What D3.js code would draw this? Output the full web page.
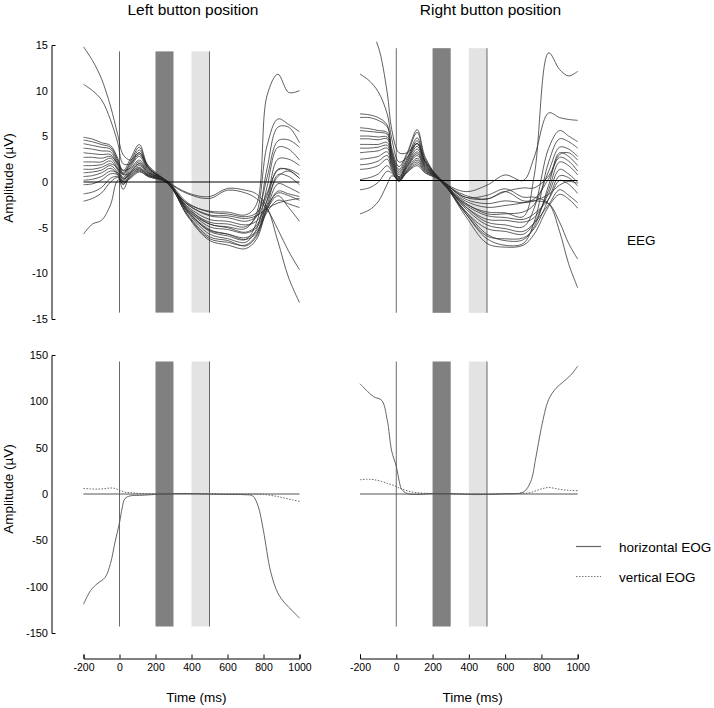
<!DOCTYPE html>
<html><head><meta charset="utf-8">
<script src="https://cdn.jsdelivr.net/npm/d3@7"></script>
<style>body{margin:0;background:#fff} svg{display:block;font-family:"Liberation Sans",Arial,sans-serif}</style>
</head><body><svg id="c" width="714" height="708"></svg>
<script>
// ---------------- data ----------------
const panelTitles = ["Left button position", "Right button position"];
const xTicks = [-200, 0, 200, 400, 600, 800, 1000];
const eegTicks = [-15, -10, -5, 0, 5, 10, 15];
const eogTicks = [-150, -100, -50, 0, 50, 100, 150];
const windows = [{start: 200, end: 300, fill: "#808080"}, {start: 400, end: 500, fill: "#e3e3e3"}];
const markers = [0, 500];

const timesL = [-200,-150,-100,-50,-10,20,60,110,160,265,380,500,600,700,760,820,880,940,1000];
const eegLeft = [
 [14.8,13.3,11.3,8.3,5.2,3.0,2.4,3.2,1.8,0.1,-1.2,-1.6,-0.7,-0.9,-1.3,-2.8,-6.5,-10.5,-13.2],
 [10.7,10.0,9.0,6.8,4.3,2.0,2.0,3.0,1.6,0.0,-1.3,-1.8,-0.9,-1.2,-1.8,-3.0,-5.2,-7.6,-9.6],
 [4.9,4.7,4.3,4.0,2.6,1.2,2.5,4.1,1.7,-0.1,-2.4,-3.2,-3.3,-3.6,-2.5,9.5,11.8,9.8,10.0],
 [4.6,4.4,4.1,3.8,2.4,0.9,2.2,3.8,1.6,0.0,-2.8,-4.6,-4.9,-5.1,-3.5,4.0,6.9,6.3,5.5],
 [4.2,4.0,3.8,3.6,2.2,1.0,2.0,3.5,1.5,-0.1,-3.2,-5.4,-5.9,-6.3,-4.5,1.5,6.0,6.0,4.3],
 [3.7,3.6,3.4,3.3,2.0,0.8,1.8,3.2,1.4,0.1,-2.9,-4.4,-4.6,-4.9,-3.8,0.5,4.5,4.6,3.8],
 [3.2,3.1,3.0,3.0,1.8,0.5,1.6,2.8,1.3,0.0,-3.4,-5.7,-6.2,-6.6,-5.2,-0.5,3.8,3.6,2.4],
 [2.7,2.7,2.6,2.8,2.0,1.3,1.5,2.4,1.2,-0.1,-2.5,-3.7,-3.9,-4.3,-3.8,-1.5,2.5,2.5,1.8],
 [2.2,2.2,2.2,2.6,1.5,0.3,1.3,2.2,1.1,0.0,-3.7,-6.2,-6.6,-6.9,-5.8,-2.0,1.4,1.3,0.4],
 [1.8,1.8,1.9,2.3,1.3,0.1,1.1,2.0,1.0,0.1,-3.0,-4.9,-5.2,-5.6,-5.0,-2.5,0.8,0.6,-0.3],
 [1.4,1.4,1.6,2.0,1.5,0.8,1.0,1.8,0.9,0.0,-3.3,-5.3,-5.7,-6.1,-5.4,-2.8,-0.2,-0.6,-1.2],
 [1.0,1.1,1.3,1.8,1.0,-0.3,0.9,1.6,0.8,-0.1,-2.7,-4.1,-4.3,-4.7,-4.3,-2.6,-1.2,-1.5,-2.0],
 [0.6,0.7,1.0,1.5,0.8,-0.8,0.7,1.4,0.8,0.0,-3.6,-6.0,-6.4,-7.0,-6.0,-3.0,-1.5,-2.8,-4.3],
 [0.2,0.3,0.6,1.2,1.0,0.4,0.8,1.5,0.7,0.1,-3.2,-5.2,-5.7,-6.3,-5.6,-3.3,-2.0,-2.4,-2.8],
 [-0.3,-0.2,0.2,0.9,0.8,0.0,0.6,1.3,0.7,0.0,-3.8,-6.4,-6.9,-7.3,-6.3,-3.0,-1.0,-1.3,-1.6],
 [-1.3,-1.1,-0.6,0.4,0.6,-0.2,0.5,1.2,0.6,-0.1,-2.5,-3.6,-3.7,-4.0,-3.7,-2.9,-2.3,-2.0,-1.8],
 [-2.1,-1.8,-1.2,0.0,0.5,0.0,0.4,1.1,0.6,0.0,-3.1,-4.6,-5.0,-5.5,-4.8,-2.0,0.6,1.2,0.4],
 [-5.7,-4.6,-4.2,-2.5,0.2,0.2,1.0,2.0,1.0,0.1,-2.3,-3.3,-3.5,-3.8,-3.4,-1.2,1.3,1.4,0.8]
];

const timesR = [-200,-150,-100,-50,-25,15,60,115,160,250,380,500,600,700,760,840,900,950,1000];
const eegRight = [
 [17.5,16.5,14.5,9.5,5.5,3.0,3.0,4.0,2.0,0.0,-1.8,-1.6,-0.9,-1.8,-1.8,-2.5,-5.5,-9.0,-11.6],
 [11.5,10.8,9.6,7.2,4.5,2.0,2.5,4.0,2.0,-0.1,-1.6,-2.0,-1.2,-2.2,-2.2,-2.5,-4.5,-6.8,-8.5],
 [7.2,7.1,6.8,6.0,3.5,1.5,3.0,5.5,2.5,-0.2,-2.5,-3.4,-3.5,-3.9,0.5,13.8,12.0,11.3,11.8],
 [6.8,6.8,6.5,5.8,3.2,1.2,2.8,5.2,2.3,0.0,-1.2,-0.5,0.6,0.0,2.5,7.3,6.8,6.6,6.5],
 [5.7,5.6,5.4,5.2,3.0,1.0,2.4,4.6,2.1,-0.1,-2.8,-4.5,-4.8,-5.0,-3.0,3.5,5.4,4.8,4.2],
 [5.4,5.3,5.2,5.0,2.8,0.8,2.2,4.3,2.0,0.0,-3.5,-6.3,-7.0,-6.8,-4.5,2.0,4.5,4.2,3.5],
 [4.8,4.8,4.7,4.7,2.6,0.6,2.0,4.0,1.8,-0.2,-2.4,-3.6,-3.6,-3.4,-2.6,1.0,3.6,3.4,2.6],
 [4.5,4.5,4.4,4.5,2.4,0.4,1.9,3.7,1.7,0.0,-3.3,-5.8,-6.5,-6.4,-5.0,-0.5,3.0,2.6,1.6],
 [3.9,3.9,3.9,4.1,2.2,0.3,1.7,3.4,1.6,-0.1,-2.2,-2.9,-2.7,-2.4,-2.0,0.2,2.5,2.1,1.0],
 [3.5,3.5,3.6,3.8,2.0,0.4,1.6,3.1,1.5,0.0,-3.3,-5.2,-5.5,-5.8,-4.6,-1.0,2.0,1.6,0.6],
 [3.0,3.1,3.2,3.5,1.8,0.1,1.5,2.9,1.4,-0.1,-2.8,-4.2,-4.3,-4.5,-4.0,-1.4,1.2,0.7,-0.2],
 [2.3,2.4,2.6,3.1,1.6,0.2,1.4,2.7,1.3,0.0,-1.8,-2.0,-1.2,-0.8,-0.8,0.5,2.8,3.0,2.2],
 [1.7,1.8,2.1,2.7,1.4,0.0,1.2,2.4,1.2,-0.1,-3.5,-6.0,-6.3,-6.2,-5.2,-2.0,0.5,0.3,-0.6],
 [1.2,1.3,1.6,2.3,1.2,-0.1,1.1,2.2,1.1,0.0,-2.6,-3.8,-4.0,-4.2,-3.6,-2.0,0.0,-0.4,-1.4],
 [0.1,0.3,0.7,1.6,1.0,0.0,1.0,2.0,1.0,0.0,-3.0,-4.8,-5.2,-5.5,-4.6,-2.6,-1.0,-1.6,-2.4],
 [-1.0,-0.8,-0.2,1.0,0.8,0.0,0.9,1.8,0.9,-0.1,-3.8,-6.8,-7.2,-7.0,-5.8,-2.8,-1.5,-2.0,-3.0],
 [-3.6,-3.2,-2.3,-0.4,0.5,0.2,0.9,1.6,0.8,0.0,-2.0,-2.5,-2.2,-2.4,-2.2,-1.5,-0.5,-0.1,-0.3]
];

const eogTimes = [-200,-160,-125,-80,-50,-25,0,15,30,60,110,200,300,400,500,600,700,740,770,800,840,880,920,960,1000];
const hEOGLeft  = [-119,-104,-97,-90,-75,-52,-31,-15,-5,-2,-1.5,-0.5,0.5,0.5,0,-0.5,-0.8,-2,-13,-40,-84,-107,-118,-126,-134];
const vEOGLeft  = [6,5.5,5.2,5.8,6.5,6,4,3,2,1.5,0.5,0.3,0.3,0.2,0,0,0,-0.1,-0.2,-0.3,-1.5,-2.8,-4.5,-6.3,-8];
const hEOGRight = [119,111,105,101,80,46,30,15,5,0.5,-0.5,0.5,0.5,-0.5,-0.5,0.3,2,13,40,72,102,114,121,128,138];
const vEOGRight = [15.4,16,15.5,13.5,11.5,10,8,6.5,5.5,3.5,1.5,0.5,0,0,0,0.3,0.8,1.5,3.5,5.5,7,5.8,4.5,3.8,3.6];

const legendItems = [{label: "horizontal EOG", dash: null}, {label: "vertical EOG", dash: "1.5,1.5"}];

// ---------------- drawing ----------------
const svg = d3.select("#c");
const fmt = d => String(d);
const xL = d3.scaleLinear().domain([-200, 1000]).range([83.5, 299.5]);
const xR = d3.scaleLinear().domain([-200, 1000]).range([360, 577.7]);
const yTL = d3.scaleLinear().domain([-15, 15]).range([319, 45]);
const yTR = d3.scaleLinear().domain([-15, 15]).range([319.3, 41.7]);
const yBL = d3.scaleLinear().domain([-150, 150]).range([633, 355]);
const yBR = d3.scaleLinear().domain([-150, 150]).range([633, 355]);
const defs = svg.append("defs");

function panel(x, y, lim, maxV, id) {
  defs.append("clipPath").attr("id", id).append("rect")
    .attr("x", x(-200) - 2).attr("width", x(1000) - x(-200) + 4)
    .attr("y", y(maxV)).attr("height", y(-maxV) - y(maxV));
  const g = svg.append("g");
  g.selectAll("rect.win").data(windows).join("rect").attr("class", "win")
    .attr("x", d => x(d.start)).attr("width", d => x(d.end) - x(d.start))
    .attr("y", y(lim)).attr("height", y(-lim) - y(lim)).attr("fill", d => d.fill);
  g.selectAll("line.mk").data(markers).join("line").attr("class", "mk")
    .attr("x1", d => x(d)).attr("x2", d => x(d)).attr("y1", y(lim)).attr("y2", y(-lim))
    .attr("stroke", "#6a6a6a").attr("stroke-width", 1);
  return g.append("g").attr("clip-path", `url(#${id})`);
}

function eeg(x, y, times, traces, id) {
  const g = panel(x, y, 14.3, 15, id);
  const line = d3.line().x((d, i) => x(times[i])).y(d => y(d)).curve(d3.curveCatmullRom.alpha(0.5));
  g.selectAll("path").data(traces).join("path").attr("d", line)
    .attr("fill", "none").attr("stroke", "#2b2b2b").attr("stroke-width", 0.75);
  g.append("line").attr("x1", x(-200)).attr("x2", x(1000)).attr("y1", y(0)).attr("y2", y(0))
    .attr("stroke", "#000").attr("stroke-width", 1);
}

function eog(x, y, h, v, id) {
  const g = panel(x, y, 143, 150, id);
  g.append("line").attr("x1", x(-200)).attr("x2", x(1000)).attr("y1", y(0)).attr("y2", y(0))
    .attr("stroke", "#555").attr("stroke-width", 1);
  const line = d3.line().x((d, i) => x(eogTimes[i])).y(d => y(d)).curve(d3.curveCatmullRom.alpha(0.5));
  g.append("path").attr("d", line(v)).attr("fill", "none").attr("stroke", "#555")
    .attr("stroke-width", 0.9).attr("stroke-dasharray", "1.5,1.5");
  g.append("path").attr("d", line(h)).attr("fill", "none").attr("stroke", "#555").attr("stroke-width", 0.9);
}

eeg(xL, yTL, timesL, eegLeft, "cTL");
eeg(xR, yTR, timesR, eegRight, "cTR");
eog(xL, yBL, hEOGLeft, vEOGLeft, "cBL");
eog(xR, yBR, hEOGRight, vEOGRight, "cBR");

function styleAxis(g, size) {
  g.attr("font-family", null).attr("font-size", null);
  g.selectAll("text").attr("font-size", size).attr("fill", "#000");
  g.selectAll("path, line").attr("stroke", "#000");
}

styleAxis(svg.append("g").attr("transform", "translate(51.5,0)")
  .call(d3.axisLeft(yTL).tickValues(eegTicks).tickFormat(fmt).tickSizeInner(0).tickSizeOuter(-4).tickPadding(3.5)), "11px");
styleAxis(svg.append("g").attr("transform", "translate(51.5,0)")
  .call(d3.axisLeft(yBL).tickValues(eogTicks).tickFormat(fmt).tickSizeInner(0).tickSizeOuter(-4).tickPadding(3.5)), "11px");
styleAxis(svg.append("g").attr("transform", "translate(0,658.5)")
  .call(d3.axisBottom(xL).tickValues(xTicks).tickFormat(fmt).tickSizeInner(-4).tickSizeOuter(-4).tickPadding(5)), "10.5px");
styleAxis(svg.append("g").attr("transform", "translate(0,658.5)")
  .call(d3.axisBottom(xR).tickValues(xTicks).tickFormat(fmt).tickSizeInner(-4).tickSizeOuter(-4).tickPadding(5)), "10.5px");

// titles & labels
svg.append("text").attr("x", 193).attr("y", 15).attr("text-anchor", "middle").attr("font-size", "15.5px").text(panelTitles[0]);
svg.append("text").attr("x", 490.5).attr("y", 15).attr("text-anchor", "middle").attr("font-size", "15.5px").text(panelTitles[1]);
[178, 489].forEach(cy => svg.append("text").attr("transform", `translate(13,${cy}) rotate(-90)`)
  .attr("text-anchor", "middle").attr("font-size", "13.5px").text("Amplitude (µV)"));
[196.3, 472.7].forEach(cx => svg.append("text").attr("x", cx).attr("y", 701.5)
  .attr("text-anchor", "middle").attr("font-size", "13.5px").text("Time (ms)"));
svg.append("text").attr("x", 627).attr("y", 245.3).attr("font-size", "13.5px").text("EEG");

const lg = svg.append("g").selectAll("g").data(legendItems).join("g")
  .attr("transform", (d, i) => `translate(0,${546.5 + i * 30})`);
lg.append("line").attr("x1", 576).attr("x2", 601).attr("stroke", "#666").attr("stroke-width", d => d.dash ? 0.9 : 1.2)
  .attr("stroke-dasharray", d => d.dash);
lg.append("text").attr("x", 619).attr("y", 5).attr("font-size", "13.5px").text(d => d.label);
</script></body></html>
